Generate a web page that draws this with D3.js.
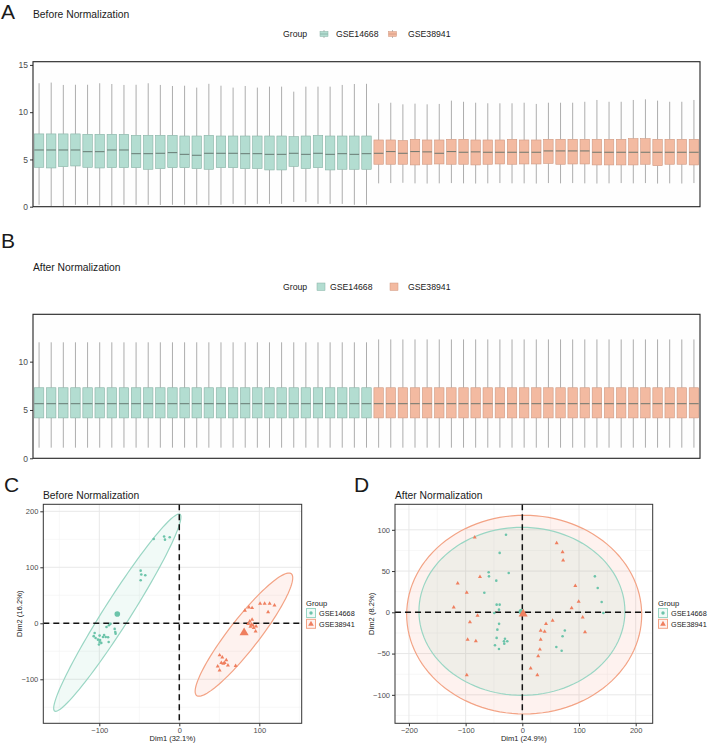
<!DOCTYPE html>
<html lang="en">
<head>
<meta charset="UTF-8">
<title>Normalization</title>
<script src="https://cdn.jsdelivr.net/npm/d3@7"></script>
<style>
  body { margin: 0; background: #fff; }
  svg { display: block; font-family: "Liberation Sans", Arial, sans-serif; }
  .tick text { fill: #4d4d4d; }
  .tick line { stroke: #333; }
</style>
</head>
<body>
<svg id="chart" width="708" height="743"></svg>
<script>
// ---- data ----
const groups = ["GSE14668", "GSE38941"];
const groupSizes = [28, 27];
const boxTicksBefore = [0, 5, 10, 15];
const boxTicksAfter = [0, 5, 10];

// before normalization: per-sample box stats (28 GSE14668 then 27 GSE38941)
const beforeLow = [0.2,0.07,0.07,0.2,0.2,0.1,0.1,0.2,0.2,0.2,0.18,0.2,0.2,0.2,0.15,0.2,0.3,0.2,0.3,0.3,0.3,0.5,0.5,0.3,0.3,0.3,0.2,0.2,
  2.47,2.5,2.53,2.47,2.45,2.47,2.5,2.47,2.45,2.47,2.5,2.47,2.47,2.45,2.5,2.47,2.5,2.47,2.45,2.47,2.5,2.47,2.5,2.45,2.47,2.45,2.5];
const beforeQ1 = [4.17,4.10,4.24,4.31,4.17,4.10,4.13,4.13,4.13,3.96,4.03,4.13,4.13,4.03,3.96,4.13,4.13,4.03,4.03,3.89,3.89,4.27,4.03,4.13,3.89,3.96,3.96,3.96,
  4.49,4.49,4.49,4.42,4.49,4.52,4.49,4.49,4.42,4.49,4.52,4.49,4.52,4.52,4.58,4.49,4.52,4.52,4.42,4.42,4.42,4.42,4.49,4.34,4.49,4.49,4.42];
const beforeMedian = [6.0,6.0,6.0,6.0,5.82,5.82,6.0,6.0,5.61,5.61,5.65,5.72,5.54,5.44,5.65,5.65,5.65,5.61,5.61,5.54,5.54,5.65,5.54,5.65,5.54,5.61,5.54,5.61,
  5.65,5.83,5.65,5.83,5.8,5.65,5.83,5.76,5.8,5.76,5.76,5.76,5.76,5.76,5.9,5.9,5.9,5.9,5.76,5.76,5.76,5.76,5.76,5.76,5.76,5.76,5.76];
const beforeQ3 = [7.7,7.7,7.7,7.7,7.66,7.66,7.66,7.66,7.55,7.55,7.55,7.55,7.48,7.48,7.55,7.48,7.48,7.48,7.48,7.48,7.48,7.41,7.48,7.55,7.48,7.48,7.48,7.48,
  7.06,7.06,7.0,7.13,7.06,7.06,7.13,7.13,7.06,7.06,7.06,7.13,7.06,7.06,7.13,7.13,7.13,7.13,7.13,7.13,7.13,7.2,7.2,7.13,7.13,7.13,7.13];
const beforeHigh = [13.06,13.13,12.88,12.9,12.9,13.06,12.98,12.88,12.9,13.06,12.88,12.77,12.8,12.6,13.0,12.8,12.6,12.77,12.6,12.7,12.7,12.17,12.7,12.7,12.7,12.88,12.98,13.0,
  10.94,11.0,10.83,10.9,10.83,10.87,11.22,11.1,11.0,10.94,10.94,10.94,11.0,10.87,11.0,11.0,11.0,11.1,11.29,11.1,11.1,11.29,11.36,11.22,11.1,11.1,11.29];

// after normalization: identical quantiles per group [low, q1, median, q3, high]
const afterStatsG1 = [1.1, 4.18, 5.65, 7.3, 12.0];
const afterStatsG2 = [1.1, 4.18, 5.65, 7.3, 12.3];

// PCA coordinates
const pcaBeforeG1 = [[-32,150.6],[-19,155],[-17.9,149.4],[-12,153.6],[-48.3,94],[-47.5,87],[-42.5,85.7],[-48.3,76.8],
  [-88,-3.6],[-91,-6.5],[-80.8,-10],[-79.6,-18.5],[-80,-15.5],[-105.8,-17.3],[-107,-23],[-99.6,-22],[-104.6,-26.2],
  [-101.7,-29.2],[-95.4,-24.4],[-92,-24.4],[-89,-25],[-99.6,-33.3],[-97.5,-35],[-100.4,-38],[-88.3,-33.3],[-99,-30],[-94,-21],[-86,-1]];
const pcaBeforeG2 = [[101,35],[106.7,35],[112.9,35],[119,32],[111,20],[82,22.6],[87,28.6],[91,27.4],
  [88,3.6],[91,6.5],[90,-2.4],[92,-3.6],[96,-5.4],[93,-8.3],[95.4,-14.3],[86,-1],
  [50.4,-57],[53.75,-60.7],[58.75,-65.5],[52.5,-70.8],[56.7,-70.8],[48,-76.8],[50.4,-84],[70.4,-76],[60.8,-75],[55,-72],[89,-6]];
const pcaAfterG1 = [[-28.8,94],[-40,72],[-59.4,48.5],[-58.8,43.6],[-24,47.7],[-45.9,38.4],[-67,23.8],[-45.3,9.3],[-40,9.3],
  [-41.2,3.2],[-49.4,-0.8],[-41,-14],[-44,-21],[-45.3,-31],[-30.6,-32],[-32.4,-35],[-26.5,-35],[-31.8,-38],[-48.2,-40],
  [-41.2,-44.4],[128,43.6],[133,29.5],[140,12.5],[143,-0.8],[75,-22],[71,-29],[60,-42],[69.4,-46.5]];
const pcaAfterG2 = [[-84,91],[-114,35],[-98,24],[-74.7,43],[-121,6],[-79,-4],[-92.4,-11.7],[-96.5,-33],[-82,-35],[-98,-76],
  [60.6,84],[71,73],[72,63],[93.5,32],[99.4,13],[87,5],[106.5,-6],[110.6,-24],[53.5,-10],[41.8,-14],[32.4,-22],
  [39.4,-23.4],[32.4,-33],[31,-45],[28,-53],[14.7,-68],[26.5,-76]];
// group centroids and ellipses: [cx, cy, ux, uy, vx, vy] (conjugate radii)
const centroidsBefore = [[-77.5,16.7],[81,-16.7]];
const centroidsAfter = [[-1.5,1],[1.5,-2]];
const ellipsesBefore = [[-77.5,19,77.1,176.2,19.6,0],[80.8,-20.2,56.2,110,23.7,0]];
const ellipsesAfter = [[-0.7,1.2,181.7,0,0,101.8],[3.3,-2.8,207.3,0,0,120.4]];
const dimLabelsBefore = ["Dim1 (32.1%)", "Dim2 (16.2%)"];
const dimLabelsAfter = ["Dim1 (24.9%)", "Dim2 (8.2%)"];

// ---- styles ----
const boxFill = ["#b3ddd1", "#f3baa1"];
const boxLine = ["#86b1a4", "#cf9880"];
const pointCol = ["#6cc4aa", "#ef7f5f"];
const ringCol = ["#9ad6c4", "#f3a385"];
const ringFill = ["rgba(126,205,183,0.11)", "rgba(242,140,110,0.11)"];

const svg = d3.select("#chart");

const sampleGroup = [];
groups.forEach((g, i) => { for (let k = 0; k < groupSizes[i]; k++) sampleGroup.push(i); });
const sampleIds = sampleGroup.map((g, i) => "S" + (i + 1));

function panelLabel(txt, x, y) {
  svg.append("text").attr("x", x).attr("y", y).attr("font-size", 21).attr("fill", "#1a1a1a").text(txt);
}
function title(txt, x, y) {
  svg.append("text").attr("x", x).attr("y", y).attr("font-size", 10.3).attr("fill", "#1a1a1a").text(txt);
}

function drawBoxPanel(opt) {
  const g = svg.append("g");
  const x = d3.scaleBand().domain(sampleIds).range([33, 700]).paddingInner(0.22).paddingOuter(0.11);
  const y = d3.scaleLinear().domain(opt.domain).range([opt.bottom, opt.top]);
  g.append("rect").attr("x", 33).attr("y", opt.top).attr("width", 667).attr("height", opt.bottom - opt.top)
    .attr("fill", "#fefefe");

  const rows = sampleIds.map((id, i) => ({ id, grp: sampleGroup[i], s: opt.stats(i) }));
  const cx = d => x(d.id) + x.bandwidth() / 2;
  g.selectAll(".wl").data(rows).join("line")
    .attr("x1", cx).attr("x2", cx).attr("y1", d => y(d.s[0])).attr("y2", d => y(d.s[1]))
    .attr("stroke", "#8a8a8a").attr("stroke-width", 0.7);
  g.selectAll(".wh").data(rows).join("line")
    .attr("x1", cx).attr("x2", cx).attr("y1", d => y(d.s[3])).attr("y2", d => y(d.s[4]))
    .attr("stroke", "#8a8a8a").attr("stroke-width", 0.7);
  g.selectAll(".bx").data(rows).join("rect")
    .attr("x", d => x(d.id)).attr("width", x.bandwidth())
    .attr("y", d => y(d.s[3])).attr("height", d => y(d.s[1]) - y(d.s[3]))
    .attr("fill", d => boxFill[d.grp]).attr("stroke", d => boxLine[d.grp]).attr("stroke-width", 0.6);
  g.selectAll(".md").data(rows).join("line")
    .attr("x1", d => x(d.id)).attr("x2", d => x(d.id) + x.bandwidth())
    .attr("y1", d => y(d.s[2])).attr("y2", d => y(d.s[2]))
    .attr("stroke", "#5f6f69").attr("stroke-width", 0.9);

  const ax = g.append("g").attr("transform", "translate(33,0)")
    .call(d3.axisLeft(y).tickValues(opt.ticks).tickSize(3).tickPadding(2).tickFormat(d3.format("d")));
  ax.select(".domain").remove();
  ax.selectAll("text").attr("font-size", 8.5);
  g.append("rect").attr("x", 33).attr("y", opt.top).attr("width", 667).attr("height", opt.bottom - opt.top)
    .attr("fill", "none").attr("stroke", "#222").attr("stroke-width", 1.1);

  // legend
  const ly = opt.legendY;
  g.append("text").attr("x", 283).attr("y", ly + 3).attr("font-size", 8.7).attr("fill", "#1a1a1a").text("Group");
  groups.forEach((name, i) => {
    const kx = opt.keyX[i];
    if (opt.boxKey) {
      g.append("line").attr("x1", kx + 4).attr("x2", kx + 4).attr("y1", ly - 4).attr("y2", ly + 4)
        .attr("stroke", "#9a9a9a").attr("stroke-width", 0.7);
      g.append("rect").attr("x", kx).attr("y", ly - 2.5).attr("width", 8).attr("height", 5)
        .attr("fill", boxFill[i]).attr("stroke", boxLine[i]).attr("stroke-width", 0.5);
      g.append("line").attr("x1", kx).attr("x2", kx + 8).attr("y1", ly).attr("y2", ly)
        .attr("stroke", boxLine[i]).attr("stroke-width", 0.8);
    } else {
      g.append("rect").attr("x", kx).attr("y", ly - 4).attr("width", 8).attr("height", 7.5)
        .attr("fill", boxFill[i]).attr("stroke", boxLine[i]).attr("stroke-width", 0.5);
    }
    g.append("text").attr("x", opt.textX[i]).attr("y", ly + 3).attr("font-size", 8.7).attr("fill", "#1a1a1a").text(name);
  });
}

panelLabel("A", 1, 19);
title("Before Normalization", 33, 18);
drawBoxPanel({
  top: 61.7, bottom: 206.7, domain: [0, 15.34], ticks: boxTicksBefore, legendY: 34,
  keyX: [320, 388.5], textX: [336, 408], boxKey: true,
  stats: i => [beforeLow[i], beforeQ1[i], beforeMedian[i], beforeQ3[i], beforeHigh[i]]
});

panelLabel("B", 1, 248);
title("After Normalization", 33, 270.5);
drawBoxPanel({
  top: 314.3, bottom: 458.3, domain: [0, 14.9], ticks: boxTicksAfter, legendY: 287,
  keyX: [317, 390], textX: [330, 408], boxKey: false,
  stats: i => sampleGroup[i] === 0 ? afterStatsG1 : afterStatsG2
});

function drawPca(opt) {
  const g = svg.append("g");
  const [L, R, T, B] = [opt.left, opt.right, 504.3, 723.3];
  const x = d3.scaleLinear().domain(opt.xDomain).range([L, R]);
  const y = d3.scaleLinear().domain(opt.yDomain).range([B, T]);
  g.append("rect").attr("x", L).attr("y", T).attr("width", R - L).attr("height", B - T).attr("fill", "#fff");

  const clip = "clip" + opt.id;
  g.append("clipPath").attr("id", clip).append("rect").attr("x", L).attr("y", T).attr("width", R - L).attr("height", B - T);
  const inner = g.append("g").attr("clip-path", `url(#${clip})`);

  const minorX = opt.xMajor.slice(1).map((v, i) => (v + opt.xMajor[i]) / 2)
    .concat([opt.xMajor[0] - opt.xStep / 2, opt.xMajor[opt.xMajor.length - 1] + opt.xStep / 2]);
  const minorY = opt.yMajor.slice(1).map((v, i) => (v + opt.yMajor[i]) / 2)
    .concat([opt.yMajor[0] - opt.yStep / 2, opt.yMajor[opt.yMajor.length - 1] + opt.yStep / 2]);
  inner.selectAll(".mx").data(minorX).join("line").attr("x1", d => x(d)).attr("x2", d => x(d)).attr("y1", T).attr("y2", B)
    .attr("stroke", "#f2f2f2").attr("stroke-width", 0.6);
  inner.selectAll(".my").data(minorY).join("line").attr("y1", d => y(d)).attr("y2", d => y(d)).attr("x1", L).attr("x2", R)
    .attr("stroke", "#f2f2f2").attr("stroke-width", 0.6);
  inner.selectAll(".gx").data(opt.xMajor).join("line").attr("x1", d => x(d)).attr("x2", d => x(d)).attr("y1", T).attr("y2", B)
    .attr("stroke", "#e8e8e8").attr("stroke-width", 1);
  inner.selectAll(".gy").data(opt.yMajor).join("line").attr("y1", d => y(d)).attr("y2", d => y(d)).attr("x1", L).attr("x2", R)
    .attr("stroke", "#e8e8e8").attr("stroke-width", 1);

  // ellipses
  const ell = e => d3.range(0, 361, 3).map(a => {
    const t = a * Math.PI / 180;
    return [x(e[0] + e[2] * Math.cos(t) + e[4] * Math.sin(t)), y(e[1] + e[3] * Math.cos(t) + e[5] * Math.sin(t))];
  });
  const line = d3.line().curve(d3.curveLinearClosed);
  [1, 0].forEach(i => {
    inner.append("path").attr("d", line(ell(opt.ellipses[i])))
      .attr("fill", ringFill[i]).attr("stroke", ringCol[i]).attr("stroke-width", 1.2);
  });

  // reference lines
  inner.append("line").attr("x1", x(0)).attr("x2", x(0)).attr("y1", T).attr("y2", B)
    .attr("stroke", "#111").attr("stroke-width", 1.5).attr("stroke-dasharray", "6,4");
  inner.append("line").attr("x1", L).attr("x2", R).attr("y1", y(0)).attr("y2", y(0))
    .attr("stroke", "#111").attr("stroke-width", 1.5).attr("stroke-dasharray", "6,4");

  // points
  const tri = d3.symbol().type(d3.symbolTriangle);
  inner.selectAll(".p1").data(opt.points[0]).join("circle")
    .attr("cx", d => x(d[0])).attr("cy", d => y(d[1])).attr("r", 1.3).attr("fill", pointCol[0]);
  inner.selectAll(".p2").data(opt.points[1]).join("path")
    .attr("transform", d => `translate(${x(d[0])},${y(d[1])})`).attr("d", tri.size(7)()).attr("fill", pointCol[1]);
  inner.append("circle").attr("cx", x(opt.centroids[0][0])).attr("cy", y(opt.centroids[0][1])).attr("r", 2.8)
    .attr("fill", pointCol[0]);
  inner.append("path").attr("transform", `translate(${x(opt.centroids[1][0])},${y(opt.centroids[1][1])})`)
    .attr("d", tri.size(36)()).attr("fill", pointCol[1]);

  g.append("rect").attr("x", L).attr("y", T).attr("width", R - L).attr("height", B - T)
    .attr("fill", "none").attr("stroke", "#333").attr("stroke-width", 1);

  const ay = g.append("g").attr("transform", `translate(${L},0)`)
    .call(d3.axisLeft(y).tickValues(opt.yMajor).tickSize(3).tickPadding(2));
  const axx = g.append("g").attr("transform", `translate(0,${B})`)
    .call(d3.axisBottom(x).tickValues(opt.xMajor).tickSize(3).tickPadding(1));
  [ay, axx].forEach(a => { a.select(".domain").remove(); a.selectAll("text").attr("font-size", 7.5); });

  g.append("text").attr("x", (L + R) / 2).attr("y", 740.5).attr("text-anchor", "middle")
    .attr("font-size", 7.5).attr("fill", "#1a1a1a").text(opt.dims[0]);
  g.append("text").attr("transform", `translate(${L - 21},${(T + B) / 2}) rotate(-90)`).attr("text-anchor", "middle")
    .attr("font-size", 7.6).attr("fill", "#1a1a1a").text(opt.dims[1]);

  // legend
  const lx = opt.legendX;
  g.append("text").attr("x", lx).attr("y", 606).attr("font-size", 7.6).attr("fill", "#1a1a1a").text("Group");
  groups.forEach((name, i) => {
    const ky = 608.5 + i * 10.8;
    g.append("rect").attr("x", lx + 0.5).attr("y", ky).attr("width", 9).attr("height", 9)
      .attr("fill", ringFill[i]).attr("stroke", ringCol[i]).attr("stroke-width", 1);
    if (i === 0) {
      g.append("circle").attr("cx", lx + 5).attr("cy", ky + 4.5).attr("r", 1.7).attr("fill", pointCol[0]);
    } else {
      g.append("path").attr("transform", `translate(${lx + 5},${ky + 4.8})`).attr("d", tri.size(14)()).attr("fill", pointCol[1]);
    }
    g.append("text").attr("x", lx + 13).attr("y", ky + 7.5).attr("font-size", 7.3).attr("fill", "#1a1a1a").text(name);
  });
}

panelLabel("C", 4, 492);
title("Before Normalization", 43, 499.3);
drawPca({
  id: "c", left: 43.3, right: 301.7, xDomain: [-170, 153], yDomain: [-178.6, 212.5],
  xMajor: [-100, 0, 100], xStep: 100, yMajor: [-100, 0, 100, 200], yStep: 100,
  points: [pcaBeforeG1, pcaBeforeG2], centroids: centroidsBefore, ellipses: ellipsesBefore,
  dims: dimLabelsBefore, legendX: 306
});

panelLabel("D", 354, 492);
title("After Normalization", 395, 499.3);
drawPca({
  id: "d", left: 395, right: 652.7, xDomain: [-224.6, 230], yDomain: [-134.5, 130.9],
  xMajor: [-200, -100, 0, 100, 200], xStep: 100, yMajor: [-100, -50, 0, 50, 100], yStep: 50,
  points: [pcaAfterG1, pcaAfterG2], centroids: centroidsAfter, ellipses: ellipsesAfter,
  dims: dimLabelsAfter, legendX: 658
});
</script>
</body>
</html>
